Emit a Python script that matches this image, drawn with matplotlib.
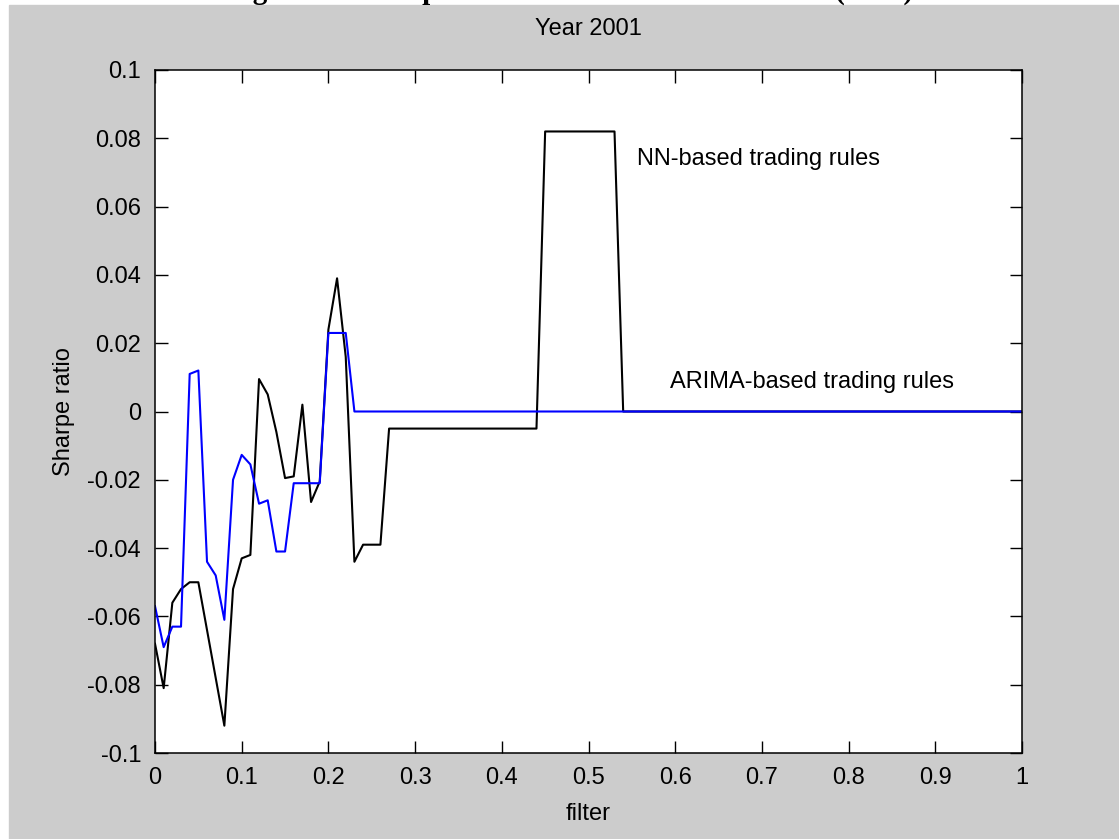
import numpy as np
import matplotlib
matplotlib.use("Agg")
import matplotlib.pyplot as plt
import matplotlib.patches as patches

# values (filter step 0.01 where the curve moves)
nn_filter = [0.00, 0.01, 0.02, 0.03, 0.04, 0.05, 0.06, 0.07, 0.08, 0.09,
             0.10, 0.11, 0.12, 0.13, 0.14, 0.15, 0.16, 0.17, 0.18, 0.19,
             0.20, 0.21, 0.22, 0.23, 0.24, 0.25, 0.26, 0.27, 0.44, 0.45,
             0.53, 0.54, 1.00]
nn_sharpe = [-0.068, -0.081, -0.056, -0.052, -0.050, -0.050, -0.064, -0.078, -0.092, -0.052,
             -0.043, -0.042, 0.0095, 0.005, -0.006, -0.0195, -0.019, 0.002, -0.0265, -0.0205,
             0.024, 0.039, 0.016, -0.044, -0.039, -0.039, -0.039, -0.005, -0.005, 0.082,
             0.082, 0.0, 0.0]

arima_filter = [0.00, 0.01, 0.02, 0.03, 0.04, 0.05, 0.06, 0.07, 0.08, 0.09,
                0.10, 0.11, 0.12, 0.13, 0.14, 0.15, 0.16, 0.17, 0.18, 0.19,
                0.20, 0.21, 0.22, 0.23, 1.00]
arima_sharpe = [-0.057, -0.069, -0.063, -0.063, 0.011, 0.012, -0.044, -0.048, -0.061, -0.020,
                -0.0127, -0.0155, -0.027, -0.026, -0.041, -0.041, -0.021, -0.021, -0.021, -0.021,
                0.023, 0.023, 0.023, 0.0, 0.0]

x_ticks = [0, 0.1, 0.2, 0.3, 0.4, 0.5, 0.6, 0.7, 0.8, 0.9, 1]
x_labels = ["0", "0.1", "0.2", "0.3", "0.4", "0.5", "0.6", "0.7", "0.8", "0.9", "1"]
y_ticks = [-0.1, -0.08, -0.06, -0.04, -0.02, 0, 0.02, 0.04, 0.06, 0.08, 0.1]
y_labels = ["-0.1", "-0.08", "-0.06", "-0.04", "-0.02", "0", "0.02", "0.04", "0.06", "0.08", "0.1"]

plt.rcParams['font.family'] = ['Liberation Sans', 'DejaVu Sans']
fs = 17

fig = plt.figure(figsize=(11.19, 8.39), dpi=100, facecolor='white')
# grey matlab window area, leaves a thin white band at top/left
fig.patches.append(patches.Rectangle((9 / 1119, 0), 1, (839 - 5) / 839,
                                     transform=fig.transFigure, color='#cccccc',
                                     zorder=-10))
# only the descenders of the document caption above show in the reference
fig.text(0.509, 1.0 + 1.5 / 839, "Figure 10: Sharpe ratio of NN and ARIMA rules (2001)",
         ha='center', va='baseline', fontsize=21, fontweight='bold',
         family=['Liberation Serif', 'DejaVu Serif'], color='black')

ax = fig.add_axes([155 / 1119, (839 - 753) / 839, (1022 - 155) / 1119, (753 - 70) / 839])
ax.set_facecolor('white')
ax.plot(nn_filter, nn_sharpe, color='black', lw=1.5)
ax.plot(arima_filter, arima_sharpe, color='#0000ff', lw=1.5)

ax.set_xlim(0, 1)
ax.set_ylim(-0.1, 0.1)
ax.set_xticks(x_ticks)
ax.set_xticklabels(x_labels)
ax.set_yticks(y_ticks)
ax.set_yticklabels(y_labels)
ax.tick_params(direction='in', length=9, width=1, labelsize=fs, pad=10,
               top=True, right=True)
for s in ax.spines.values():
    s.set_linewidth(1.1)

ax.text(0.5556, 0.0722, "NN-based trading rules", fontsize=fs, va='baseline')
ax.text(0.594, 0.0068, "ARIMA-based trading rules", fontsize=fs, va='baseline')

ax.set_title("Year 2001", fontsize=fs, pad=25)
ax.set_xlabel("filter", fontsize=fs, labelpad=10)
ax.set_ylabel("Sharpe ratio", fontsize=fs, labelpad=9)

fig.savefig("out.png", dpi=100, facecolor=fig.get_facecolor())
